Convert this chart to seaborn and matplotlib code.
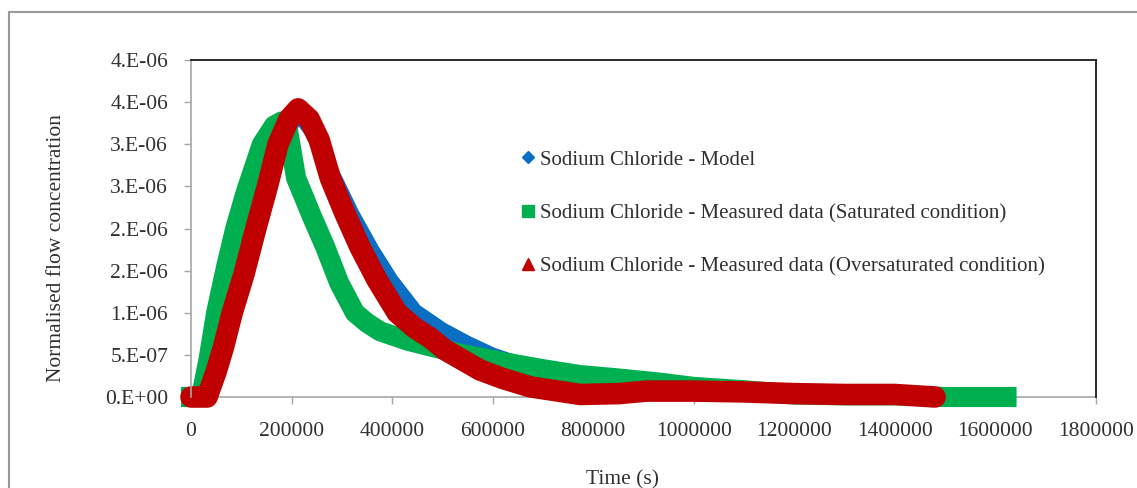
import matplotlib
matplotlib.use("Agg")
import matplotlib.pyplot as plt
import seaborn as sns
import pandas as pd
from matplotlib.lines import Line2D
from matplotlib.patches import Rectangle
from matplotlib.ticker import FixedLocator, FixedFormatter

# ---- data ----
model_t = [0, 30000, 50000, 80000, 110000, 140000, 170000, 195000, 215000, 240000, 265000,
           290000, 320000, 360000, 398000, 446000, 500000, 550000, 600000, 650000, 700000,
           800000, 900000, 1000000, 1100000, 1200000, 1350000, 1500000]
model_c = [0, 0, 0.3, 0.95, 1.6, 2.25, 2.85, 3.2, 3.35, 3.15, 2.85,
           2.55, 2.18, 1.75, 1.39, 1.02, 0.8, 0.64, 0.5, 0.4, 0.32,
           0.2, 0.13, 0.08, 0.05, 0.03, 0.01, 0.0]

sat_t = [0, 20000, 35000, 50000, 70000, 88000, 110000, 141000, 165000, 180000, 192000,
         209000, 240000, 267000, 295000, 326000, 350000, 376000, 430000, 476000, 530000,
         615000, 700000, 774000, 850000, 933000, 1000000, 1100000, 1200000, 1300000,
         1400000, 1500000, 1622000]
sat_c = [0, 0, 0.45, 1.0, 1.55, 2.0, 2.45, 3.0, 3.22, 3.27, 3.2,
         2.6, 2.15, 1.78, 1.35, 1.0, 0.88, 0.78, 0.67, 0.6, 0.52,
         0.42, 0.33, 0.26, 0.22, 0.17, 0.12, 0.08, 0.03, 0.02,
         0.02, 0.0, 0.0]

over_t = [0, 32000, 50000, 65000, 82000, 105000, 129000, 152000, 173000, 195000, 213000,
          235000, 255000, 277000, 306000, 336000, 370000, 410000, 445000, 476000, 505000,
          575000, 620000, 675000, 774000, 850000, 907000, 1000000, 1100000, 1200000,
          1300000, 1400000, 1480000]
over_c = [0, 0, 0.3, 0.6, 1.0, 1.45, 2.0, 2.5, 3.0, 3.3, 3.42,
          3.3, 3.05, 2.6, 2.18, 1.78, 1.39, 1.0, 0.82, 0.7, 0.56,
          0.32, 0.22, 0.12, 0.03, 0.04, 0.07, 0.07, 0.06, 0.04,
          0.03, 0.03, 0.0]

series_names = ["Sodium Chloride - Model",
                "Sodium Chloride - Measured data (Saturated condition)",
                "Sodium Chloride - Measured data (Oversaturated condition)"]
colors = ["#0A6FC2", "#00B050", "#C00000"]

y_ticks = [0, 0.5e-6, 1.0e-6, 1.5e-6, 2.0e-6, 2.5e-6, 3.0e-6, 3.5e-6, 4.0e-6]
y_tick_labels = ["0.E+00", "5.E-07", "1.E-06", "2.E-06", "2.E-06", "3.E-06", "3.E-06", "4.E-06", "4.E-06"]
x_ticks = [0, 200000, 400000, 600000, 800000, 1000000, 1200000, 1400000, 1600000, 1800000]
x_tick_labels = [str(v) for v in x_ticks]

# ---- figure ----
sns.set_theme(style="white")
plt.rcParams["font.family"] = ["Liberation Serif", "DejaVu Serif"]
FS = 15.5
TXT = "#303030"

fig = plt.figure(figsize=(11.37, 4.88), dpi=100)
ax = fig.add_axes([191 / 1137, 1 - 397 / 488, (1096 - 191) / 1137, (397 - 60) / 488])

frames = []
for name, t, c in [(series_names[0], model_t, model_c),
                   (series_names[1], sat_t, sat_c),
                   (series_names[2], over_t, over_c)]:
    frames.append(pd.DataFrame({"t": t, "c": [v * 1e-6 for v in c], "series": name}))

widths = [10.5, 14.5, 15.5]
caps = ["round", "projecting", "round"]
for df, col, lw, cap in zip(frames, colors, widths, caps):
    sns.lineplot(data=df, x="t", y="c", ax=ax, color=col, linewidth=lw,
                 sort=False, estimator=None, legend=False,
                 solid_capstyle=cap, solid_joinstyle="round", clip_on=False)

ax.set_xlim(0, 1800000)
ax.set_ylim(0, 4e-6)
ax.yaxis.set_major_locator(FixedLocator(y_ticks))
ax.yaxis.set_major_formatter(FixedFormatter(y_tick_labels))
ax.xaxis.set_major_locator(FixedLocator(x_ticks))
ax.xaxis.set_major_formatter(FixedFormatter(x_tick_labels))

for s in ["top", "right"]:
    ax.spines[s].set_color("#1a1a1a")
    ax.spines[s].set_linewidth(1.3)
for s in ["left", "bottom"]:
    ax.spines[s].set_color("#a6a6a6")
    ax.spines[s].set_linewidth(1.2)
ax.spines["bottom"].set_zorder(0.5)

ax.tick_params(axis="both", which="major", direction="out", length=5, width=1,
               color="#a6a6a6", labelsize=FS, labelcolor=TXT,
               bottom=True, left=True)
ax.tick_params(axis="y", pad=11.5)
ax.tick_params(axis="x", pad=13)

ax.set_xlabel("")
ax.set_ylabel("")
fig.text(622 / 1137, 1 - 480 / 488, "Time (s)", fontsize=FS, color=TXT,
         ha="center", va="center")
fig.text(57 / 1137, 1 - 248 / 488, "Normalised flow concentration", fontsize=FS, color=TXT,
         ha="center", va="center", rotation=90)

markers = ["D", "s", "^"]
msizes = [6, 9, 8]
handles = [Line2D([], [], linestyle="none", marker=m, markersize=ms, color=c)
           for m, ms, c in zip(markers, msizes, colors)]
ax.legend(handles, series_names, loc="upper left", bbox_to_anchor=(0.345, 0.788),
          frameon=False, fontsize=15, handlelength=0.6, handletextpad=0.25,
          labelspacing=1.62, labelcolor=TXT)

# outer chart border
fig.patches.append(Rectangle((9 / 1137, -0.1), 1.2, 1.1 - 12 / 488, transform=fig.transFigure,
                             fill=False, edgecolor="#9a9a9a", linewidth=1.5))

fig.savefig("out.png", dpi=100)
